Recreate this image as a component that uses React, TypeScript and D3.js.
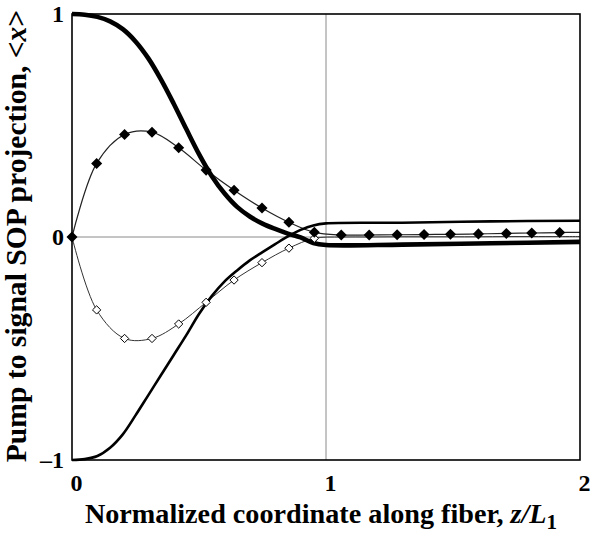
import React, { useEffect, useRef } from 'react';
import * as d3 from 'd3';

// thick curve starting at +1
const pumpZ = [0, 0.05, 0.1, 0.15, 0.2, 0.25, 0.3, 0.35, 0.4, 0.45, 0.5, 0.55, 0.6, 0.65, 0.7, 0.75, 0.8, 0.85, 0.9, 0.95, 1.0, 1.3, 1.65, 2.0];
const pumpV = [1.0, 0.997, 0.987, 0.967, 0.932, 0.877, 0.802, 0.707, 0.599, 0.484, 0.372, 0.274, 0.196, 0.135, 0.092, 0.06, 0.036, 0.015, -0.002, -0.027, -0.036, -0.034, -0.028, -0.022];

// medium curve starting at -1
const signalZ = [0, 0.05, 0.1, 0.15, 0.2, 0.25, 0.3, 0.35, 0.4, 0.45, 0.5, 0.55, 0.6, 0.65, 0.7, 0.75, 0.8, 0.85, 0.9, 0.95, 1.0, 1.3, 1.65, 2.0];
const signalV = [-1.0, -0.996, -0.982, -0.945, -0.885, -0.8, -0.71, -0.62, -0.53, -0.44, -0.345, -0.265, -0.2, -0.15, -0.105, -0.068, -0.032, 0.003, 0.032, 0.052, 0.061, 0.064, 0.07, 0.073];

// diamond series
const markZ = [0, 0.097, 0.207, 0.315, 0.42, 0.528, 0.638, 0.748, 0.854, 0.954, 1.06, 1.17, 1.28, 1.386, 1.49, 1.6, 1.71, 1.81, 1.92];
const filledV = [0, 0.33, 0.46, 0.47, 0.4, 0.3, 0.21, 0.13, 0.066, 0.021, 0.009, 0.009, 0.01, 0.011, 0.012, 0.014, 0.016, 0.018, 0.02];
const hollowV = [0, -0.327, -0.455, -0.455, -0.39, -0.293, -0.193, -0.115, -0.05, -0.006, 0.0, 0.0, 0.001, 0.001, 0.001, 0.001, 0.002, 0.002, 0.002];
const hollowMarkCount = 10;
const lineEndZ = 2;
const filledEndV = 0.021;
const hollowEndV = 0.002;

const xTicks = [0, 1, 2];
const yTicks = [-1, 0, 1];
const yTickLabels = ['–1', '0', '1'];

const W = 592;
const H = 536;
const FONT = '"Liberation Serif", "Times New Roman", serif';

const App = () => {
  const svgRef = useRef<SVGSVGElement>(null);

  useEffect(() => {
    const svg = d3.select(svgRef.current);
    svg.selectAll('*').remove();

    const margin = { top: 14, right: 12, bottom: 76, left: 72 };
    const x = d3.scaleLinear().domain([0, 2]).range([margin.left, W - margin.right]);
    const y = d3.scaleLinear().domain([-1, 1]).range([H - margin.bottom, margin.top]);

    const g = svg.append('g');

    // reference lines
    g.append('line')
      .attr('x1', x(0)).attr('x2', x(2))
      .attr('y1', y(0)).attr('y2', y(0))
      .attr('stroke', '#8a8a8a').attr('stroke-width', 1);
    g.append('line')
      .attr('x1', x(1)).attr('x2', x(1))
      .attr('y1', y(-1)).attr('y2', y(1))
      .attr('stroke', '#8a8a8a').attr('stroke-width', 1);

    const line = d3
      .line<[number, number]>()
      .x((d) => x(d[0]))
      .y((d) => y(d[1]))
      .curve(d3.curveCatmullRom.alpha(0.5));

    const filledPts: [number, number][] = markZ.map((z, i) => [z, filledV[i]]);
    filledPts.push([lineEndZ, filledEndV]);
    const hollowPts: [number, number][] = markZ.map((z, i) => [z, hollowV[i]]);
    hollowPts.push([lineEndZ, hollowEndV]);

    g.append('path')
      .attr('d', line(hollowPts))
      .attr('fill', 'none').attr('stroke', '#333').attr('stroke-width', 1);
    g.append('path')
      .attr('d', line(filledPts))
      .attr('fill', 'none').attr('stroke', '#222').attr('stroke-width', 1.2);

    g.append('path')
      .attr('d', line(signalZ.map((z, i) => [z, signalV[i]] as [number, number])))
      .attr('fill', 'none').attr('stroke', '#000').attr('stroke-width', 2.6);
    g.append('path')
      .attr('d', line(pumpZ.map((z, i) => [z, pumpV[i]] as [number, number])))
      .attr('fill', 'none').attr('stroke', '#000').attr('stroke-width', 4.6);

    const diamond = d3.symbol().type(d3.symbolDiamond2);

    g.selectAll('.hollow')
      .data(markZ.slice(0, hollowMarkCount).map((z, i) => [z, hollowV[i]]))
      .join('path')
      .attr('class', 'hollow')
      .attr('d', diamond.size(44)())
      .attr('transform', (d) => `translate(${x(d[0])},${y(d[1])})`)
      .attr('fill', '#fff').attr('stroke', '#000').attr('stroke-width', 1);

    g.selectAll('.filled')
      .data(markZ.map((z, i) => [z, filledV[i]]))
      .join('path')
      .attr('class', 'filled')
      .attr('d', diamond.size(78)())
      .attr('transform', (d) => `translate(${x(d[0])},${y(d[1])})`)
      .attr('fill', '#000');

    // frame
    g.append('rect')
      .attr('x', x(0)).attr('y', y(1))
      .attr('width', x(2) - x(0)).attr('height', y(-1) - y(1))
      .attr('fill', 'none').attr('stroke', '#000').attr('stroke-width', 1.6);

    // axes
    const yAxis = g.append('g')
      .attr('transform', `translate(${x(0)},0)`)
      .call(d3.axisLeft(y).tickValues(yTicks).tickSize(0).tickPadding(8)
        .tickFormat((d, i) => yTickLabels[i]));
    yAxis.select('.domain').remove();
    yAxis.selectAll('text')
      .attr('font-family', FONT).attr('font-size', 24).attr('font-weight', 'bold').attr('fill', '#000');

    const xAxis = g.append('g')
      .attr('transform', `translate(0,${y(-1)})`)
      .call(d3.axisBottom(x).tickValues(xTicks).tickSize(0).tickPadding(14).tickFormat(d3.format('d')));
    xAxis.select('.domain').remove();
    xAxis.selectAll('text')
      .attr('dx', 4)
      .attr('font-family', FONT).attr('font-size', 24).attr('font-weight', 'bold').attr('fill', '#000');

    // axis titles
    const xt = svg.append('text')
      .attr('x', 321).attr('y', 523)
      .attr('text-anchor', 'middle')
      .attr('font-family', FONT).attr('font-size', 28.2).attr('font-weight', 'bold');
    xt.append('tspan').text('Normalized coordinate along fiber, ');
    xt.append('tspan').attr('font-style', 'italic').text('z/L');
    xt.append('tspan').attr('font-size', 21).attr('dy', 6).text('1');

    const yt = svg.append('text')
      .attr('transform', `translate(26,236) rotate(-90)`)
      .attr('text-anchor', 'middle')
      .attr('font-family', FONT).attr('font-size', 29.6).attr('font-weight', 'bold');
    yt.append('tspan').text('Pump to signal SOP projection, <');
    yt.append('tspan').attr('font-style', 'italic').text('x');
    yt.append('tspan').text('>');
  }, []);

  return (
    <svg
      ref={svgRef}
      width={W}
      height={H}
      style={{ position: 'absolute', left: 0, top: 0, background: '#fff' }}
    />
  );
};

export default App;
